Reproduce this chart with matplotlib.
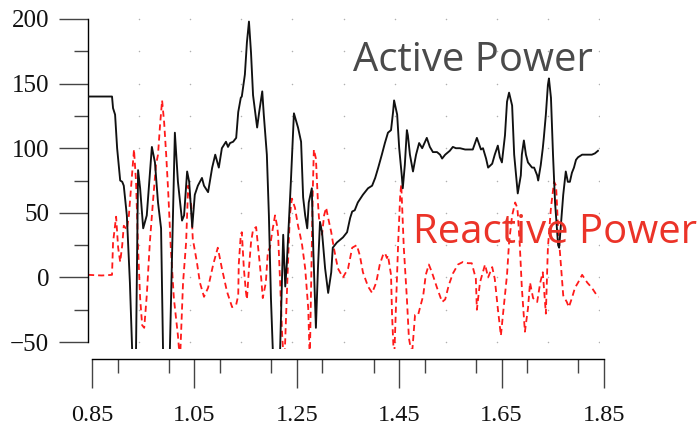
"""
Active / reactive power trace, redrawn from a scope-style plot
"""
import numpy as np
import matplotlib
matplotlib.use("Agg")
import matplotlib.pyplot as plt
from matplotlib.ticker import MultipleLocator

# active power (solid black)
active_t = [0.850, 0.897, 0.899, 0.903, 0.907, 0.913, 0.917, 0.920, 0.926, 0.932,
            0.938, 0.944, 0.948, 0.952, 0.958, 0.965, 0.975, 0.981, 0.987, 0.993,
            0.997, 1.005, 1.010, 1.020, 1.026, 1.034, 1.038, 1.044, 1.048, 1.054,
            1.059, 1.065, 1.073, 1.077, 1.085, 1.093, 1.099, 1.106, 1.112, 1.120,
            1.124, 1.128, 1.134, 1.140, 1.144, 1.149, 1.151, 1.157, 1.161, 1.165,
            1.169, 1.173, 1.181, 1.185, 1.191, 1.194, 1.200, 1.204, 1.208, 1.212,
            1.218, 1.226, 1.232, 1.236, 1.239, 1.247, 1.253, 1.261, 1.267, 1.271,
            1.275, 1.279, 1.282, 1.288, 1.291, 1.296, 1.300, 1.304, 1.308, 1.314,
            1.320, 1.326, 1.329, 1.337, 1.343, 1.349, 1.357, 1.363, 1.367, 1.372,
            1.378, 1.388, 1.398, 1.406, 1.412, 1.418, 1.425, 1.431, 1.437, 1.443,
            1.447, 1.449, 1.455, 1.459, 1.464, 1.466, 1.470, 1.474, 1.476, 1.480,
            1.486, 1.492, 1.498, 1.504, 1.513, 1.519, 1.525, 1.533, 1.539, 1.543,
            1.549, 1.558, 1.564, 1.570, 1.578, 1.588, 1.598, 1.603, 1.611, 1.619,
            1.623, 1.629, 1.633, 1.641, 1.646, 1.652, 1.656, 1.660, 1.666, 1.670,
            1.674, 1.680, 1.684, 1.690, 1.691, 1.697, 1.699, 1.703, 1.707, 1.711,
            1.719, 1.723, 1.729, 1.731, 1.736, 1.740, 1.742, 1.746, 1.750, 1.752,
            1.756, 1.760, 1.764, 1.770, 1.772, 1.776, 1.780, 1.785, 1.789, 1.793,
            1.797, 1.801, 1.805, 1.809, 1.817, 1.823, 1.828, 1.836, 1.842, 1.848]
active_p = [140, 140, 131, 126, 100, 75, 74, 71, 48, -4,
            -75, -55, 83, 69, 38, 48, 101, 89, 58, 38,
            -60, -90, -60, 112, 74, 44, 48, 82, 74, 39,
            64, 71, 77, 71, 66, 85, 95, 85, 100, 105,
            101, 104, 105, 108, 128, 139, 140, 157, 182, 198,
            174, 141, 116, 128, 144, 126, 95, 48, -16, -60,
            -85, -55, 33, -7, 10, 74, 127, 116, 105, 62,
            48, 38, 58, 69, 20, -39, 7, 43, 35, 7,
            -12, 4, 23, 27, 29, 31, 35, 46, 51, 52,
            58, 64, 69, 71, 77, 85, 95, 104, 112, 114,
            128, 137, 126, 100, 79, 69, 87, 114, 110, 95,
            82, 95, 104, 100, 108, 101, 97, 97, 95, 92,
            95, 98, 101, 100, 100, 99, 99, 99, 108, 99,
            100, 92, 85, 88, 95, 102, 93, 89, 110, 136,
            143, 133, 95, 69, 65, 79, 95, 106, 95, 89,
            85, 85, 79, 75, 87, 100, 108, 126, 149, 154,
            139, 95, 58, 25, 23, 43, 64, 82, 74, 74,
            81, 85, 91, 93, 95, 95, 95, 95, 96, 98]

# reactive power (dashed red)
reactive_t = [0.850, 0.877, 0.897, 0.899, 0.905, 0.909, 0.913, 0.917, 0.920, 0.926,
              0.930, 0.936, 0.940, 0.944, 0.948, 0.952, 0.956, 0.960, 0.965, 0.971,
              0.977, 0.983, 0.987, 0.991, 0.995, 0.999, 1.003, 1.007, 1.012, 1.018,
              1.026, 1.030, 1.036, 1.042, 1.046, 1.052, 1.055, 1.063, 1.069, 1.077,
              1.085, 1.095, 1.104, 1.112, 1.122, 1.132, 1.140, 1.144, 1.145, 1.149,
              1.151, 1.155, 1.159, 1.161, 1.165, 1.169, 1.173, 1.179, 1.183, 1.189,
              1.192, 1.198, 1.202, 1.206, 1.210, 1.216, 1.220, 1.222, 1.226, 1.230,
              1.234, 1.241, 1.245, 1.249, 1.255, 1.261, 1.265, 1.269, 1.275, 1.281,
              1.284, 1.288, 1.290, 1.292, 1.296, 1.300, 1.302, 1.308, 1.312, 1.316,
              1.320, 1.326, 1.331, 1.339, 1.349, 1.359, 1.367, 1.376, 1.382, 1.388,
              1.398, 1.406, 1.414, 1.421, 1.427, 1.431, 1.435, 1.437, 1.443, 1.445,
              1.449, 1.457, 1.461, 1.463, 1.468, 1.474, 1.478, 1.484, 1.490, 1.496,
              1.506, 1.511, 1.517, 1.523, 1.533, 1.543, 1.549, 1.556, 1.564, 1.574,
              1.584, 1.594, 1.601, 1.609, 1.611, 1.617, 1.627, 1.633, 1.641, 1.646,
              1.652, 1.658, 1.662, 1.670, 1.674, 1.680, 1.686, 1.690, 1.691, 1.695,
              1.699, 1.705, 1.711, 1.715, 1.721, 1.729, 1.735, 1.740, 1.746, 1.750,
              1.756, 1.762, 1.766, 1.770, 1.776, 1.780, 1.787, 1.791, 1.797, 1.803,
              1.809, 1.817, 1.827, 1.836, 1.846, 1.850]
reactive_q = [2, 1.5, 2, 27, 47, 23, 12, 25, 40, 37,
              48, 79, 99, 74, 23, -16, -37, -39, -14, 27,
              58, 87, 95, 118, 137, 120, 95, 66, 23, -16,
              -45, -65, -4, 27, 71, 56, 30, 12, -4, -15,
              -8, 10, 23, 7, -11, -23, -21, -14, 10, 33,
              35, 7, -11, -17, 7, 27, 37, 39, 23, -1,
              -16, -4, 20, 23, 34, 48, 40, 33, -4, -45,
              -70, 7, 48, 61, 54, 40, 33, 25, 7, -24,
              -65, 23, 69, 99, 92, 58, 46, 33, 48, 54,
              46, 35, 23, 7, 0, 7, 23, 25, 17, 4,
              -7, -12, -4, 10, 17, 19, 15, 17, 2, -29,
              -65, 27, 64, 72, 23, -16, -47, -60, -29, -29,
              -14, 2, 10, 4, -8, -19, -17, -6, 3, 10,
              12, 11, 11, -1, -25, -4, 10, 0, 8, -1,
              -24, -45, -29, 2, 27, 48, 58, 54, 50, 25,
              -8, -42, -24, -4, -16, -19, -4, 4, -28, 23,
              54, 74, 71, 38, 7, -14, -19, -23, -16, -8,
              -4, 2, -4, -8, -14, -15]

grid_t = np.arange(0.95, 1.86, 0.1)
grid_p = np.arange(-50, 201, 25)

W, H = 698, 428

fig = plt.figure(figsize=(W / 100, H / 100), dpi=100)

# main data axes: x 0.85..1.85 -> px 88..599, y -55..201 -> px 348.5..17.7
ax = fig.add_axes([88 / W, 1 - 348.5 / H, 511 / W, 330.8 / H])
ax.set_xlim(0.85, 1.85)
ax.set_ylim(-55, 201)

gx, gy = np.meshgrid(grid_t, grid_p)
ax.scatter(gx.ravel(), gy.ravel(), s=1.2, color="#b0b0b0", linewidths=0, zorder=1)

ax.plot(reactive_t, reactive_q, color="#ff1a1a", lw=1.3, dashes=(3.4, 2.2), zorder=2)
ax.plot(active_t, active_p, color="#111111", lw=1.35, zorder=3)

for side in ["top", "right", "bottom"]:
    ax.spines[side].set_visible(False)
ax.spines["left"].set_bounds(-50, 200)
ax.spines["left"].set_linewidth(1.0)
ax.spines["left"].set_color("black")

ax.yaxis.set_major_locator(MultipleLocator(50))
ax.yaxis.set_minor_locator(MultipleLocator(25))
ax.tick_params(axis="y", which="major", direction="out", length=21, width=1,
               color="#444444", pad=7, labelsize=18, labelcolor="#111111")
ax.tick_params(axis="y", which="minor", direction="out", length=10, width=1, color="#444444")
ax.set_xticks([])
for lab in ax.get_yticklabels():
    lab.set_fontfamily("Liberation Serif")

# separate, slightly offset x axis
axx = fig.add_axes([92 / W, 1 - 359 / H, 512 / W, 0.0001])
axx.set_xlim(0.85, 1.85)
axx.set_yticks([])
axx.patch.set_visible(False)
for side in ["top", "right", "left"]:
    axx.spines[side].set_visible(False)
axx.spines["bottom"].set_linewidth(1.0)
axx.spines["bottom"].set_color("black")
axx.set_xticks([0.85, 1.05, 1.25, 1.45, 1.65, 1.85])
axx.xaxis.set_minor_locator(MultipleLocator(0.1))
axx.tick_params(axis="x", which="major", direction="out", length=21, width=1,
                color="#444444", pad=12, labelsize=17.5, labelcolor="#111111")
axx.tick_params(axis="x", which="minor", direction="out", length=10, width=1, color="#444444")
for lab in axx.get_xticklabels():
    lab.set_fontfamily("Liberation Serif")

ax.text(1.369, 160, "Active Power", color="#4a4a4a", fontsize=28.8,
        family="Open Sans", ha="left", va="baseline")
ax.text(1.486, 26.6, "Reactive Power", color="#eb3328", fontsize=28.8,
        family="Open Sans", ha="left", va="baseline")

fig.savefig("out.png", dpi=100)
